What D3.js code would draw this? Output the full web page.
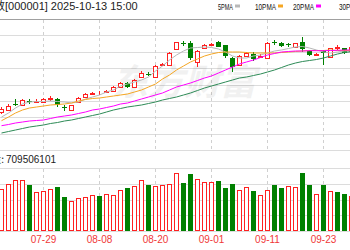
<!DOCTYPE html>
<html>
<head>
<meta charset="utf-8">
<script src="https://cdn.jsdelivr.net/npm/d3@7"></script>
<style>
body{margin:0;background:#fff}
svg{display:block}
</style>
</head>
<body>
<div id="chart"></div>
<script>
// size of SVG
var w = 350;
var h = 250;

// trading days shown
var dates = ["07-21","07-22","07-23","07-24","07-25","07-28","07-29","07-30","07-31","08-01",
  "08-04","08-05","08-06","08-07","08-08","08-11","08-12","08-13","08-14","08-15",
  "08-18","08-19","08-20","08-21","08-22","08-25","08-26","08-27","08-28","08-29",
  "09-01","09-02","09-03","09-04","09-05","09-08","09-09","09-10","09-11","09-12",
  "09-15","09-16","09-17","09-18","09-19","09-22","09-23","09-24","09-25","09-26","09-29"];

// daily candles (index points)
var open  = [3495,3505,3535,3530,3550,3547,3545,3558,3560,3520,3503,3543,3570,3585,3588,3595,3600,3620,3640,3620,
  3670,3685,3670,3730,3730,3810,3840,3840,3747,3815,3830,3845,3830,3765,3730,3775,3785,3772,3765,3845,
  3842,3835,3818,3847,3802,3780,3800,3768,3815,3813,3800];
var close = [3510,3525,3530,3555,3545,3550,3560,3563,3530,3515,3530,3565,3585,3590,3591,3600,3620,3640,3620,3655,
  3690,3680,3725,3735,3790,3845,3835,3765,3802,3830,3835,3822,3775,3722,3775,3792,3760,3777,3840,3840,
  3825,3830,3838,3808,3780,3785,3792,3813,3820,3788,3820];
var high  = [3520,3535,3560,3560,3560,3560,3565,3575,3565,3530,3532,3568,3588,3597,3600,3607,3625,3643,3645,3658,
  3700,3695,3728,3740,3793,3847,3850,3852,3805,3835,3841,3850,3832,3768,3778,3795,3797,3785,3843,3855,
  3845,3842,3841,3868,3805,3792,3805,3816,3830,3816,3825];
var low   = [3485,3500,3525,3525,3535,3540,3540,3550,3520,3500,3500,3540,3567,3580,3580,3590,3597,3617,3615,3615,
  3665,3675,3665,3725,3728,3808,3825,3755,3722,3812,3825,3820,3765,3697,3725,3772,3752,3765,3762,3830,
  3822,3818,3815,3796,3777,3775,3730,3765,3805,3785,3795];

// volume, millions of lots; volUp = 1 for red bar, 0 for green bar
var volume = [834,940,1020,1020,926,780,800,834,874,674,606,654,674,714,694,734,714,820,854,900,
  1020,926,900,914,940,1154,966,1140,1034,980,980,1000,854,946,820,874,800,714,820,926,
  854,900,874,1166,914,746,926,800,786,734,710];
var volUp = [1,1,1,1,0,1,1,1,0,0,1,1,1,1,0,1,1,1,0,1,1,0,1,1,1,1,0,0,1,1,
  1,0,0,0,1,1,0,1,1,0,0,1,1,0,0,1,0,1,0,0,1];

// moving averages
var ma5  = [3470,3490,3515,3535,3545,3547.5,3547.5,3550,3547.5,3545,3540,3545,3560,3570,3580,3595,3605,3625,3635,3645,
  3655,3670,3700,3725,3755,3780,3800,3815,3817.5,3820,3817.5,3810,3795,3775,3765,3765,3775,3780,3790,3800,
  3805,3812.5,3820,3822.5,3815,3805,3795,3790,3795,3800,3800];
var ma10 = [3451.5,3470,3490,3505,3515,3520,3525,3530,3532.5,3535,3540,3550,3557.5,3562.5,3565,3570,3575,3580,3585,3595,
  3605,3620,3635,3660,3680,3705,3725,3745,3760,3775,3785,3792.5,3795,3795,3795,3792.5,3790,3790,3790,3790,
  3792.5,3795,3797.5,3800,3802.5,3802.5,3802.5,3805,3802.5,3802.5,3802.5];
var ma20 = [3426.5,3432.5,3440,3445,3450,3452.5,3455,3462.5,3470,3475,3480,3487.5,3495,3505,3510,3517.5,3525,3535,3540,3550,
  3560,3570,3580,3590,3605,3620,3630,3640,3652.5,3665,3675,3690,3705,3720,3735,3745,3755,3767.5,3780,3787.5,
  3795,3797.5,3800,3800,3801.5,3801.5,3801.5,3802.5,3803.5,3805,3805];
var ma30 = [3390,3397.5,3405,3412.5,3420,3425,3430,3437.5,3442.5,3450,3455,3462.5,3470,3477.5,3485,3495,3505,3512.5,3520,3525,
  3530,3537.5,3545,3555,3562.5,3570,3580,3590,3602.5,3615,3625,3635,3645,3655,3665,3670,3677.5,3685,3695,3705,
  3717.5,3730,3740,3747.5,3752.5,3757.5,3765,3775,3785,3792.5,3796.5];

var tickDates = ["07-29","08-08","08-20","09-01","09-11","09-23"];
var legendNames = ["5PMA","10PMA","20PMA","30PMA"];
var titleName = "上证指数";
var titleCode = "[000001] 2025-10-13 15:00";
var volName = "成交量:";
var volText = "709506101";

var red = "#ff2020";
var green = "#008000";
var maColors = ["#b8b8b8","#f5a623","#ff00ff","#2e8b57"];

var svg = d3.select("#chart").append("svg")
  .attr("width", w).attr("height", h)
  .style("font-family", "'Liberation Sans', Arial, sans-serif");

// scales
var x = d3.scalePoint().domain(dates).range([1, 1 + 7 * (dates.length - 1)]);
var y = d3.scaleLinear().domain([3305, 3960]).range([150, 19]);
var yv = d3.scaleLinear().domain([0, 1260]).range([231, 168]);

// horizontal grid, main panel
var yd = y.domain();
var hgrid = d3.range(1, 9).map(function(i) { return yd[1] - (yd[1] - yd[0]) * i / 8; });
svg.append("g").selectAll("line").data(hgrid).join("line")
  .attr("x1", 0).attr("x2", w)
  .attr("y1", function(d) { return Math.round(y(d)) + 0.5; })
  .attr("y2", function(d) { return Math.round(y(d)) + 0.5; })
  .attr("stroke", "#dcdcdc");
// volume grid
var vd = yv.domain();
var vgrid = d3.range(0, 5).map(function(i) { return vd[1] * i / 4; });
svg.append("g").selectAll("line").data(vgrid).join("line")
  .attr("x1", 0).attr("x2", w)
  .attr("y1", function(d) { return Math.round(yv(d)) + 0.5; })
  .attr("y2", function(d) { return Math.round(yv(d)) + 0.5; })
  .attr("stroke", "#dcdcdc");
// top border
svg.append("line").attr("x1", 0).attr("x2", w)
  .attr("y1", Math.round(y(yd[1])) + 0.5).attr("y2", Math.round(y(yd[1])) + 0.5)
  .attr("stroke", "#a0a0a0");

// vertical dashed grid at date ticks
[[y(yd[1]), y(yd[0])], [yv(vd[1]), yv(0)]].forEach(function(r) {
  svg.append("g").selectAll("line").data(tickDates).join("line")
    .attr("x1", function(d) { return x(d) + 0.5; })
    .attr("x2", function(d) { return x(d) + 0.5; })
    .attr("y1", r[0] + 1).attr("y2", r[1])
    .attr("stroke", "#d0d0d0")
    .attr("stroke-dasharray", "3,3");
});

// watermark
svg.append("text")
  .attr("x", 112).attr("y", 95)
  .attr("font-size", 36).attr("font-weight", "bold").attr("font-style", "italic")
  .attr("font-family", "'Noto Sans CJK SC', sans-serif")
  .attr("fill", "#000").attr("opacity", 0.05)
  .text("东方财富");

// volume bars
svg.append("g").attr("shape-rendering", "crispEdges")
  .selectAll("rect").data(dates).join("rect")
  .attr("x", function(d, i) { return volUp[i] ? x(d) - 1.5 : x(d) - 2; })
  .attr("y", function(d, i) { return Math.round(yv(volume[i])) + (volUp[i] ? 0.5 : 0); })
  .attr("width", function(d, i) { return volUp[i] ? 4 : 5; })
  .attr("height", function(d, i) { return Math.round(yv(0)) - Math.round(yv(volume[i])) - (volUp[i] ? 1 : 0); })
  .attr("fill", function(d, i) { return volUp[i] ? "#fff" : green; })
  .attr("stroke", function(d, i) { return volUp[i] ? red : "none"; });

// candles
var cg = svg.append("g").attr("shape-rendering", "crispEdges")
  .selectAll("g").data(dates).join("g");
cg.append("line")
  .attr("x1", function(d) { return x(d) + 0.5; })
  .attr("x2", function(d) { return x(d) + 0.5; })
  .attr("y1", function(d, i) { return Math.round(y(high[i])); })
  .attr("y2", function(d, i) { return Math.round(y(low[i])); })
  .attr("stroke", function(d, i) { return close[i] >= open[i] ? red : green; });
cg.append("rect")
  .attr("x", function(d, i) { return close[i] >= open[i] ? x(d) - 1.5 : x(d) - 2; })
  .attr("y", function(d, i) {
    var t = Math.round(y(Math.max(open[i], close[i])));
    return close[i] >= open[i] ? t + 0.5 : t;
  })
  .attr("width", function(d, i) { return close[i] >= open[i] ? 4 : 5; })
  .attr("height", function(d, i) {
    var hh = Math.round(y(Math.min(open[i], close[i]))) - Math.round(y(Math.max(open[i], close[i])));
    return close[i] >= open[i] ? Math.max(hh, 0) : Math.max(hh, 1);
  })
  .attr("fill", function(d, i) { return close[i] >= open[i] ? "#fff" : green; })
  .attr("stroke", function(d, i) { return close[i] >= open[i] ? red : "none"; });

// moving average lines
[ma5, ma10, ma20, ma30].forEach(function(ma, k) {
  var line = d3.line()
    .x(function(d, i) { return x(dates[i]) + 0.5; })
    .y(function(d) { return y(d); });
  svg.append("path").datum(ma)
    .attr("d", line)
    .attr("fill", "none")
    .attr("stroke", maColors[k])
    .attr("stroke-width", 1);
});

// title
svg.append("text").attr("x", 5).attr("y", 10).attr("font-size", 11)
  .attr("text-anchor", "end").attr("font-family", "'Noto Sans CJK SC', sans-serif")
  .attr("fill", "#222").text(titleName);
svg.append("text").attr("x", 5).attr("y", 10).attr("font-size", 11)
  .attr("fill", "#222").text(titleCode);

// legend
var legX = [218, 255, 293, 339];
var legW = [15, 21, 21, 21];
legendNames.forEach(function(n, k) {
  svg.append("text").attr("x", legX[k]).attr("y", 9.5)
    .attr("font-size", 9.5).attr("fill", "#111")
    .attr("textLength", legW[k]).attr("lengthAdjust", "spacingAndGlyphs")
    .text(n);
  svg.append("rect").attr("x", legX[k] + legW[k] + 2).attr("y", 4.5)
    .attr("width", 5).attr("height", 3)
    .attr("fill", maColors[k]);
});

// volume label
svg.append("text").attr("x", 4).attr("y", 163).attr("font-size", 10)
  .attr("text-anchor", "end").attr("font-family", "'Noto Sans CJK SC', sans-serif")
  .attr("fill", "#222").text(volName);
svg.append("text").attr("x", 6).attr("y", 163).attr("font-size", 10)
  .attr("fill", "#222").text(volText);

// date axis
var xAxis = d3.axisBottom(x).tickValues(tickDates).tickSize(0).tickPadding(3);
var ax = svg.append("g").attr("transform", "translate(0," + (yv(0) + 2) + ")").call(xAxis);
ax.select(".domain").remove();
ax.selectAll("text")
  .attr("font-size", 10)
  .attr("font-family", "'Liberation Sans', Arial, sans-serif")
  .attr("fill", "#f03838");
</script>
</body>
</html>
